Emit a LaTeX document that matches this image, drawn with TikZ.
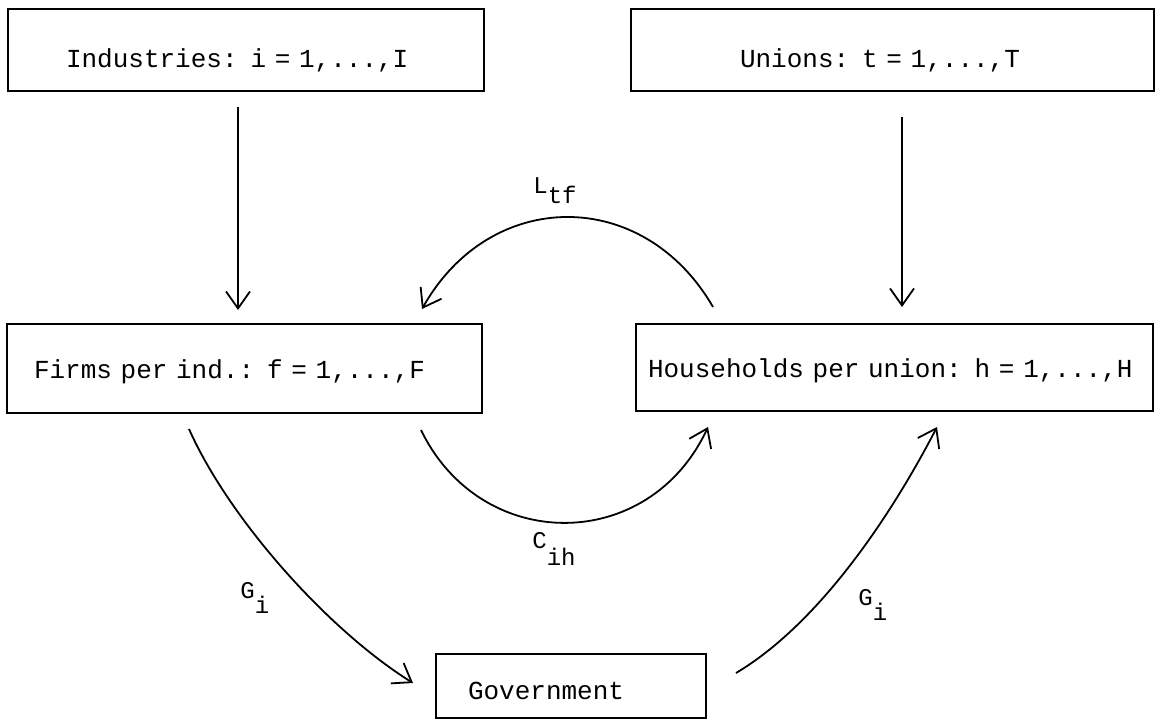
\documentclass[tikz,border=0pt]{standalone}
\usepackage{fontspec}
\usepackage{tikz}
\usetikzlibrary{arrows.meta, positioning}
\newfontfamily\typewriter{Liberation Mono}
\DeclareRobustCommand\boxfont{\typewriter\fontsize{13}{15}\selectfont}

\begin{document}
\begin{tikzpicture}[x=0.5pt, y=-0.5pt,
 box/.style={draw, line width=1pt, inner sep=0pt, align=left, anchor=north west,
   font=\boxfont},
 flow/.style={-{Straight Barb[length=8.5pt,width=12pt]}, line width=0.9pt},
 lbl/.style={inner sep=0pt, anchor=base west, font=\typewriter\fontsize{12}{14}\selectfont}]

  \useasboundingbox (0,0) rectangle (1159,727);

  \node[box, text width=238pt, text height=29.5pt, text depth=11.5pt] (ind) at (7,8)
    {\hspace*{29pt}Industries: i = 1,...,I};
  \node[box, text width=261.5pt, text height=29.5pt, text depth=11.5pt] (uni) at (630,8)
    {\hspace*{54.5pt}Unions: t = 1,...,T};
  \node[box, text width=237.5pt, text height=27pt, text depth=17.5pt] (firms) at (6,323)
    {\hspace*{13.5pt}Firms per ind.: f = 1,...,F};
  \node[box, text width=258.5pt, text height=26.5pt, text depth=17pt] (hh) at (635,323)
    {\hspace*{6pt}Households per union: h = 1,...,H};
  \node[box, text width=135pt, text height=22.5pt, text depth=9.5pt] (gov) at (435,653)
    {\hspace*{16pt}Government};

  \draw[flow, shorten <=7.5pt, shorten >=6.5pt] ([xshift=-4pt]ind.south) -- ([xshift=-3.25pt]firms.north);
  \draw[flow, shorten <=12.5pt, shorten >=8pt] ([xshift=4.75pt]uni.south) -- ([xshift=3.75pt]hh.north);

  \draw[flow] ([shift={(39pt,8pt)}]hh.north west) .. controls (643,186) and (490,188) .. ([shift={(-30.5pt,7pt)}]firms.north east);
  \draw[flow] ([shift={(-31pt,-8pt)}]firms.south east) .. controls (481,554) and (649,554) .. ([shift={(36.5pt,-7.5pt)}]hh.south west);
  \draw[flow] ([shift={(91.5pt,-7.5pt)}]firms.south west) .. controls (229,519) and (328,630) .. ([shift={(-11pt,-15pt)}]gov.north west);
  \draw[flow] ([shift={(14.5pt,-10pt)}]gov.north east) .. controls (820,623) and (892,514) .. ([shift={(151pt,-7.5pt)}]hh.south west);

  \node[lbl] (ltf) at (533,193) {L\raisebox{-5pt}{tf}};
  \node[lbl] (cih) at (532,548) {C\raisebox{-8.5pt}{ih}};
  \node[lbl] (gil) at (240,598) {G\raisebox{-7.5pt}{i}};
  \node[lbl] (gir) at (858,605) {G\raisebox{-7.5pt}{i}};

\end{tikzpicture}
\end{document}
